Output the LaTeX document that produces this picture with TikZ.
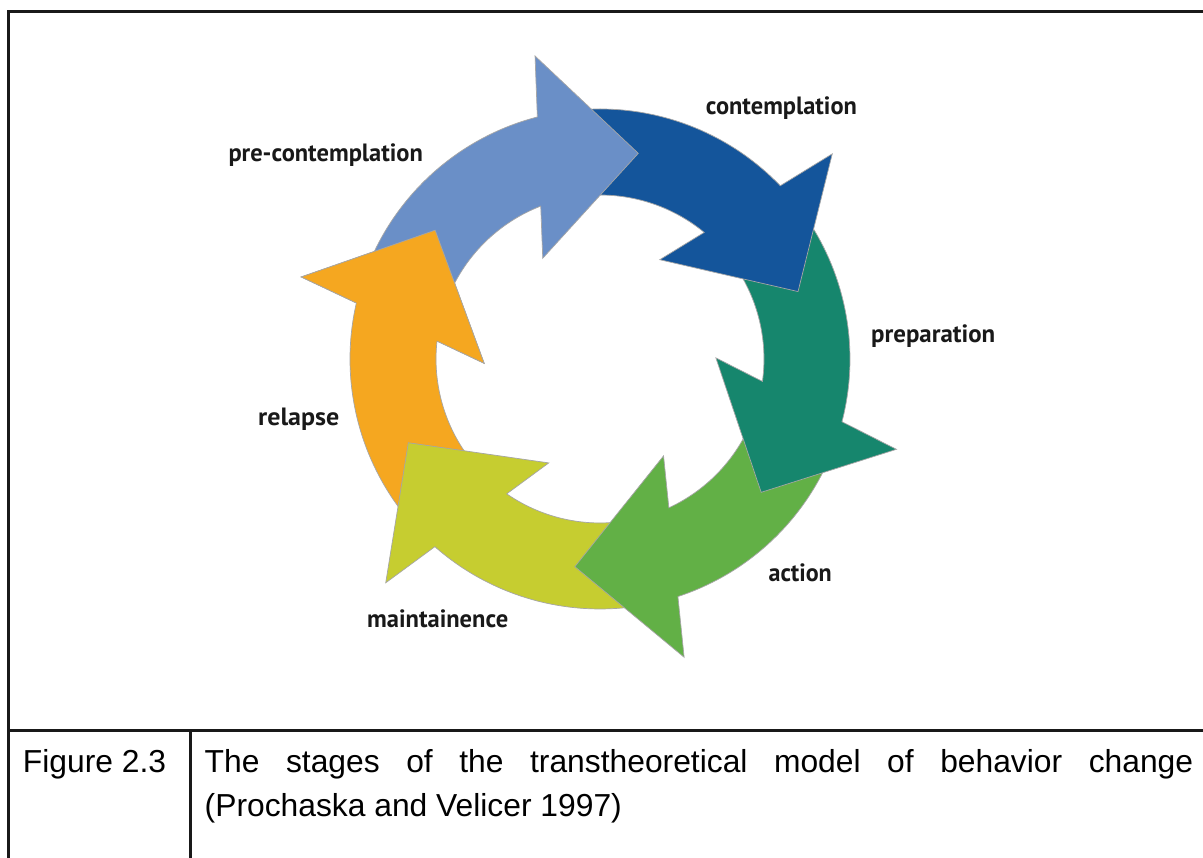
\documentclass[tikz,border=0pt]{standalone}
\usepackage{fontspec}
\setmainfont{Liberation Sans}
\newfontfamily\stagefont{PT Sans}
\usepackage{graphicx}
\definecolor{cpre}{HTML}{6A8FC7}
\definecolor{ccon}{HTML}{14559B}
\definecolor{cprep}{HTML}{16866D}
\definecolor{cact}{HTML}{62B046}
\definecolor{cmain}{HTML}{C6CD30}
\definecolor{crel}{HTML}{F5A720}
\tikzset{
  stagelabel/.style={anchor=base west, inner sep=0pt, text=black!90, font=\stagefont\bfseries\fontsize{25}{30}\selectfont},
  tableline/.style={line width=2.6pt, draw=black!90},
  ringedge/.style={draw=black!35, line width=0.7pt, line join=miter},
  captext/.style={anchor=base west, inner sep=0pt, text=black, font=\fontsize{31.8}{38}\selectfont}
}
% #1 tip angle, #2 tail angle relative to tip, #3 colour, #4 radial shift
\newcommand\stagearrow[4]{%
  \begin{scope}[shift={(600,499)},rotate=#1,shift={(#4,0)}]
    \filldraw[fill=#3,ringedge] (#2:250pt) arc[start angle=#2,end angle=25.06,radius=250pt]
      -- (22.65:309.9pt) -- (0:209.2pt) -- (40.15:115.9pt) -- (31.73:164pt)
      arc[start angle=31.73,end angle=#2,radius=164pt] -- cycle;
  \end{scope}}
\begin{document}
\begin{tikzpicture}[x=1pt,y=1pt]
\useasboundingbox (0,0) rectangle (1203,858);
\fill[white] (0,0) rectangle (1203,858);
% table lines
\draw[tableline] (1210,846.7) -- (8.7,846.7) -- (8.7,-5);
\draw[tableline] (8.7,127.2) -- (1210,127.2);
\draw[tableline] (190.7,127.2) -- (190.7,-5);
% ring of arrows
\stagearrow{142.0}{84.0}{crel}{0}
\stagearrow{-156.4}{81.9}{cmain}{0}
\stagearrow{-96.9}{79.7}{cact}{0}
\stagearrow{-39.6}{80.8}{cprep}{0}
\stagearrow{18.8}{83.05}{ccon}{0}
\stagearrow{79.45}{84.95}{cpre}{0}
\begin{scope}[shift={(600,499)},rotate=142.0]
  \fill[crel] (22.65:309.9pt) -- (0:209.2pt) -- (40.15:115.9pt) -- cycle;
  \draw[ringedge] (25.06:250pt) -- (22.65:309.9pt) -- (0:209.2pt) -- (40.15:115.9pt) -- (31.73:164pt);
\end{scope}
% labels
\node[stagelabel] (lpre) at (228.3,696.3) {\resizebox{194.4pt}{\height}{pre-contemplation}};
\node[stagelabel] (lcon) at (705.7,743.5) {\resizebox{151pt}{\height}{contemplation}};
\node[stagelabel] (lprep) at (871,515) {\resizebox{124pt}{\height}{preparation}};
\node[stagelabel] (lact) at (768.4,276) {\resizebox{63.2pt}{\height}{action}};
\node[stagelabel] (lmain) at (367,230.5) {\resizebox{141pt}{\height}{maintainence}};
\node[stagelabel] (lrel) at (258,432) {\resizebox{81pt}{\height}{relapse}};
% caption
\node[captext] (fignum) at (22.7,85) {Figure 2.3};
\node[captext] (capa) at (204.5,85) {\makebox[988.5pt][s]{The stages of the transtheoretical model of behavior change}};
\node[captext] (capb) at (204.5,41) {(Prochaska and Velicer 1997)};
\end{tikzpicture}
\end{document}
